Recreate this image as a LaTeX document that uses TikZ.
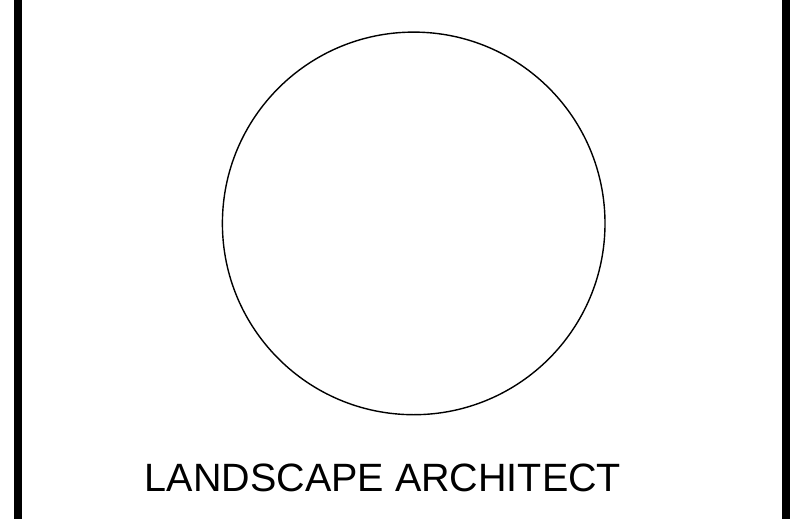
\documentclass[tikz,border=0pt]{standalone}
\usepackage{fontspec}
\setmainfont{Liberation Sans}
\begin{document}
\begin{tikzpicture}[x=1pt,y=-1pt,
  bar/.style={fill=black},
  label/.style={font=\fontsize{39.5}{44}\selectfont, inner sep=0pt, anchor=base}]
\useasboundingbox (0,0) rectangle (808,519);
\fill[white] (0,0) rectangle (808,519);
\fill[bar] (14,0) rectangle (22,519);
\fill[bar] (782,0) rectangle (790,519);
\node[circle, draw, line width=1.4pt, minimum size=382.6pt, inner sep=0pt] (c) at (413.7,223.4) {};
\node[label] (t) at (383,491) {LANDSCAPE ARCHITECT};
\end{tikzpicture}
\end{document}
